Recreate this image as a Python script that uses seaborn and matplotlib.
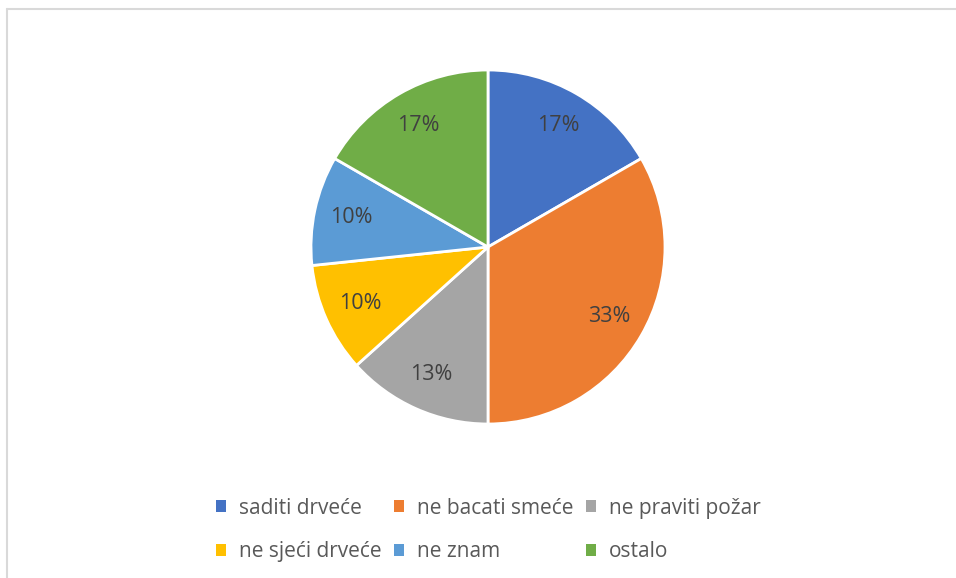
import matplotlib
matplotlib.use("Agg")
import matplotlib.pyplot as plt
import seaborn as sns
from matplotlib.lines import Line2D
from matplotlib.patches import Patch

# podaci
kategorije = ["saditi drveće", "ne bacati smeće", "ne praviti požar",
              "ne sjeći drveće", "ne znam", "ostalo"]
odgovori = [5, 10, 4, 3, 3, 5]
boje = ["#4472C4", "#ED7D31", "#A5A5A5", "#FFC000", "#5B9BD5", "#70AD47"]

sns.set_theme(style="white")
plt.rcParams["font.family"] = ["Open Sans", "DejaVu Sans"]

W, H = 956, 578
fig = plt.figure(figsize=(W / 100, H / 100), dpi=100)
fig.patch.set_facecolor("white")

# okvir grafikona (vidi se samo gore i lijevo)
fig.add_artist(Line2D([7 / W, 1], [1 - 9 / H, 1 - 9 / H], color="#D9D9D9", lw=1.5))
fig.add_artist(Line2D([7 / W, 7 / W], [0, 1 - 9 / H], color="#D9D9D9", lw=1.5))

cx, cy, r = 488, 247, 177
ax = fig.add_axes([(cx - r) / W, (H - cy - r) / H, 2 * r / W, 2 * r / H])
wedges, texts, autotexts = ax.pie(
    odgovori, colors=boje, startangle=90, counterclock=False,
    autopct="%1.0f%%", pctdistance=0.79,
    wedgeprops=dict(edgecolor="white", linewidth=2),
    textprops=dict(color="#404040", fontsize=15.5),
)
ax.set_xlim(-1, 1)
ax.set_ylim(-1, 1)
ax.set_aspect("equal")
ax.axis("off")

# legenda red po red
redoslijed = [0, 3, 1, 4, 2, 5]
handles = [Patch(facecolor=boje[i], edgecolor="none") for i in redoslijed]
labels = [kategorije[i] for i in redoslijed]
leg = fig.legend(handles, labels, loc="center", ncol=3,
                 bbox_to_anchor=(488 / W, 1 - 530 / H), frameon=False,
                 fontsize=15, handlelength=0.5, handleheight=0.5,
                 handletextpad=0.6, columnspacing=0.6, labelspacing=1.1)
for t in leg.get_texts():
    t.set_color("#595959")

fig.savefig("out.png", dpi=100)
